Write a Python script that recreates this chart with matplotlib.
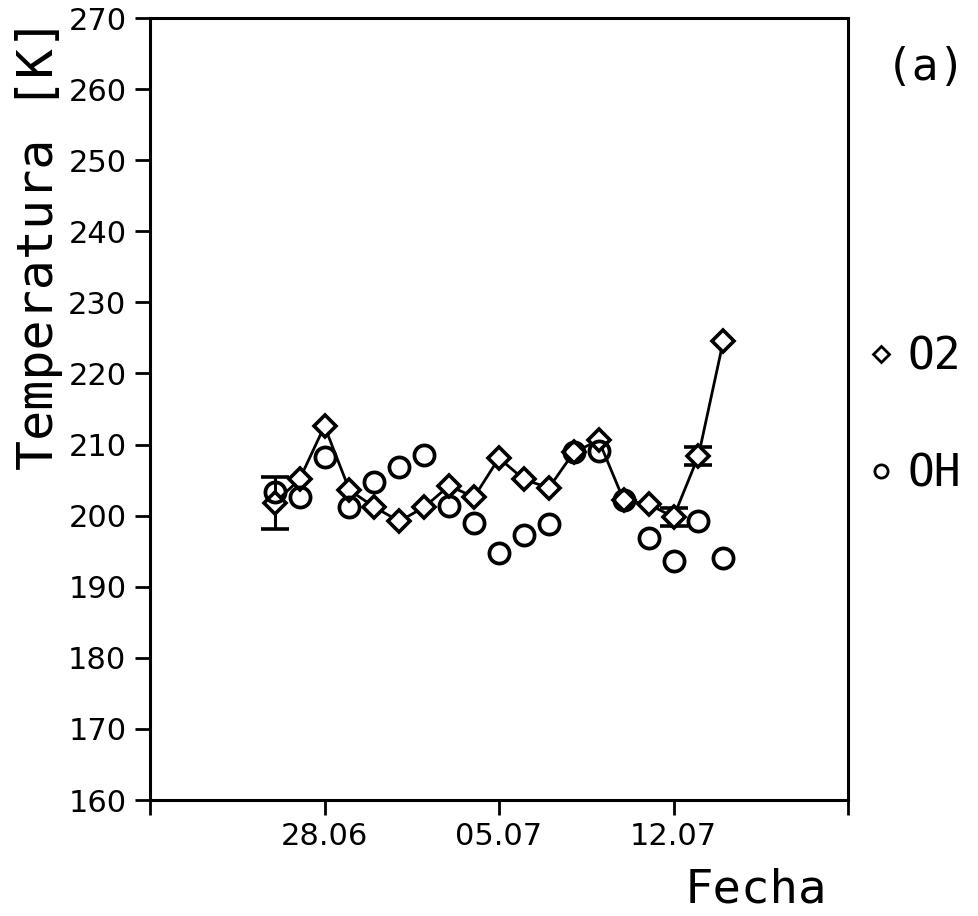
import matplotlib
matplotlib.use("Agg")
import matplotlib.pyplot as plt
import matplotlib.dates as mdates
from matplotlib.lines import Line2D
from datetime import datetime

# ---- data ----
dates = ["26.06", "27.06", "28.06", "29.06", "30.06", "01.07", "02.07",
         "03.07", "04.07", "05.07", "06.07", "07.07", "08.07", "09.07",
         "10.07", "11.07", "12.07", "13.07", "14.07"]
o2_temp = [201.8, 205.1, 212.6, 203.6, 201.2, 199.2, 201.2, 204.2, 202.6,
           208.1, 205.1, 203.9, 208.9, 210.6, 202.2, 201.6, 199.8, 208.4, 224.6]
o2_err = [3.7, 0, 0, 0, 0, 0, 0, 0, 0, 0, 0, 0, 0, 0, 0, 0, 1.3, 1.3, 0]
oh_temp = [203.3, 202.6, 208.2, 201.2, 204.7, 206.8, 208.5, 201.4, 199.0,
           194.7, 197.3, 198.8, 208.9, 209.1, 202.2, 196.8, 193.6, 199.2, 194.0]

xtick_dates = ["21.06", "28.06", "05.07", "12.07", "19.07"]
xtick_labels = ["", "28.06", "05.07", "12.07", ""]
yticks = [160, 170, 180, 190, 200, 210, 220, 230, 240, 250, 260, 270]

def to_dt(s):
    return datetime.strptime(s, "%d.%m")

x = [to_dt(d) for d in dates]
xt = [to_dt(d) for d in xtick_dates]

fig = plt.figure(figsize=(9.79, 9.16), dpi=100)
ax = fig.add_axes([150/979, 1 - 800/916, 698/979, 782/916])

ax.plot(x, o2_temp, color="black", lw=2.0, zorder=2)
err_idx = [i for i, e in enumerate(o2_err) if e > 0]
ax.errorbar([x[i] for i in err_idx], [o2_temp[i] for i in err_idx],
            yerr=[o2_err[i] for i in err_idx], fmt="none", ecolor="black",
            elinewidth=2.2, capsize=10, capthick=2.6, zorder=3)
ax.plot(x, o2_temp, ls="none", marker="D", ms=11.5, mfc="white", mec="black",
        mew=2.6, zorder=4)
ax.plot(x, oh_temp, ls="none", marker="o", ms=14.5, mfc="none", mec="black",
        mew=2.7, zorder=5)

ax.set_xlim(xt[0], xt[-1])
ax.set_ylim(160, 270)
ax.set_xticks(mdates.date2num(xt))
ax.set_xticklabels(xtick_labels, fontsize=22, family="DejaVu Sans")
ax.set_yticks(yticks)
ax.set_yticklabels([str(v) for v in yticks], fontsize=22, family="DejaVu Sans")
ax.tick_params(axis="both", direction="out", length=11, width=2.0, pad=6)
ax.tick_params(axis="x", pad=5)
for sp in ax.spines.values():
    sp.set_linewidth(2.2)

ax.set_ylabel("Temperatura [K]", fontsize=36, family="DejaVu Sans Mono",
              loc="top", labelpad=4)
ax.set_xlabel("Fecha", fontsize=34, family="DejaVu Sans Mono")
ax.xaxis.set_label_coords((756 - 150) / 698, -(890 - 800) / 782)
ax.xaxis.label.set_verticalalignment("center")

fig.text(886/979, 1 - 68/916, "(a)", fontsize=32, family="DejaVu Sans Mono",
         ha="left", va="center")

handles = [Line2D([], [], ls="none", marker="D", ms=8.5, mfc="white", mec="black",
                  mew=2.0, label="O2"),
           Line2D([], [], ls="none", marker="o", ms=9.5, mfc="none", mec="black",
                  mew=2.0, label="OH")]
leg = ax.legend(handles=handles, loc="upper left",
                bbox_to_anchor=(868/979, 1 - 336/916),
                bbox_transform=fig.transFigure, frameon=False,
                prop={"family": "DejaVu Sans Mono", "size": 32},
                handlelength=0.6, handletextpad=0.3, labelspacing=1.65,
                borderpad=0, borderaxespad=0)

fig.savefig("out.png", dpi=100)
